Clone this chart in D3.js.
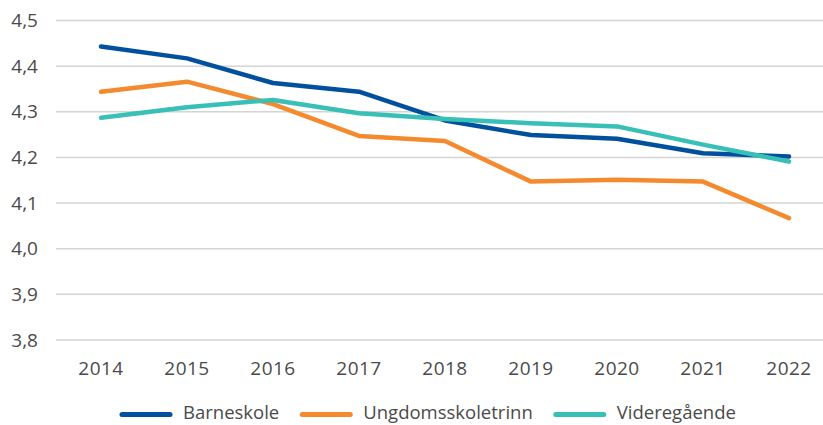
<!DOCTYPE html>
<html>
<head>
<meta charset="utf-8">
<script src="https://cdn.jsdelivr.net/npm/d3@7"></script>
<style>
  body { margin: 0; background: #fff; }
  svg { display: block; font-family: "Open Sans", sans-serif; }
</style>
</head>
<body>
<div id="chart"></div>
<script>
let years = ["2014", "2015", "2016", "2017", "2018", "2019", "2020", "2021", "2022"];
let barneskole = [4.443, 4.417, 4.363, 4.344, 4.281, 4.249, 4.241, 4.209, 4.202];
let ungdomsskoletrinn = [4.344, 4.366, 4.317, 4.247, 4.236, 4.147, 4.151, 4.147, 4.067];
let videregaende = [4.287, 4.310, 4.326, 4.297, 4.284, 4.275, 4.268, 4.228, 4.191];
let yTicks = [3.8, 3.9, 4.0, 4.1, 4.2, 4.3, 4.4, 4.5];

let series = [
    { name: "Barneskole", values: barneskole, color: "#00509e" },
    { name: "Ungdomsskoletrinn", values: ungdomsskoletrinn, color: "#f4892e" },
    { name: "Videregående", values: videregaende, color: "#38c0b7" }
];

let width = 823;
let height = 425;

let svg = d3.select('#chart')
    .append('svg')
        .attr('width', width)
        .attr('height', height);

let x = d3.scaleBand().domain(years).range([58, 832]);
let y = d3.scaleLinear().domain([3.8, 4.5]).range([340, 20.5]);

let fmt = function (d) {
    return d3.format(".1f")(d).replace(".", ",");
};

// gridlines
svg.append('g')
    .selectAll('line')
    .data(yTicks)
    .enter()
    .append('line')
        .attr('x1', 56)
        .attr('x2', width)
        .attr('y1', function (d) { return y(d); })
        .attr('y2', function (d) { return y(d); })
        .attr('stroke', '#d4d4d4')
        .attr('stroke-width', 1.5);

// y labels
svg.append('g')
    .selectAll('text')
    .data(yTicks)
    .enter()
    .append('text')
        .attr('x', 38)
        .attr('y', function (d) { return y(d); })
        .attr('dy', '0.35em')
        .attr('text-anchor', 'end')
        .attr('font-size', '19px')
        .attr('fill', '#4a4a4a')
        .text(fmt);

// x labels
svg.append('g')
    .selectAll('text')
    .data(years)
    .enter()
    .append('text')
        .attr('x', function (d) { return x(d) + x.bandwidth() / 2; })
        .attr('y', 375)
        .attr('text-anchor', 'middle')
        .attr('font-size', '19px')
        .attr('letter-spacing', '0.5px')
        .attr('fill', '#4a4a4a')
        .text(function (d) { return d; });

let line = d3.line()
    .x(function (d, i) { return x(years[i]) + x.bandwidth() / 2; })
    .y(function (d) { return y(d); });

svg.append('g')
    .selectAll('path')
    .data(series)
    .enter()
    .append('path')
        .attr('d', function (d) { return line(d.values); })
        .attr('fill', 'none')
        .attr('stroke', function (d) { return d.color; })
        .attr('stroke-width', 4.5)
        .attr('stroke-linecap', 'round')
        .attr('stroke-linejoin', 'round');

// legend
let legend = svg.append('g');
let lx = 120;
series.forEach(function (s) {
    legend.append('line')
        .attr('x1', lx + 2)
        .attr('x2', lx + 50)
        .attr('y1', 414.5)
        .attr('y2', 414.5)
        .attr('stroke', s.color)
        .attr('stroke-width', 5)
        .attr('stroke-linecap', 'round');
    let t = legend.append('text')
        .attr('x', lx + 63)
        .attr('y', 419)
        .attr('font-size', '18.5px')
        .attr('fill', '#4a4a4a')
        .text(s.name);
    lx = lx + 63 + t.node().getComputedTextLength() + 21;
});
</script>
</body>
</html>
